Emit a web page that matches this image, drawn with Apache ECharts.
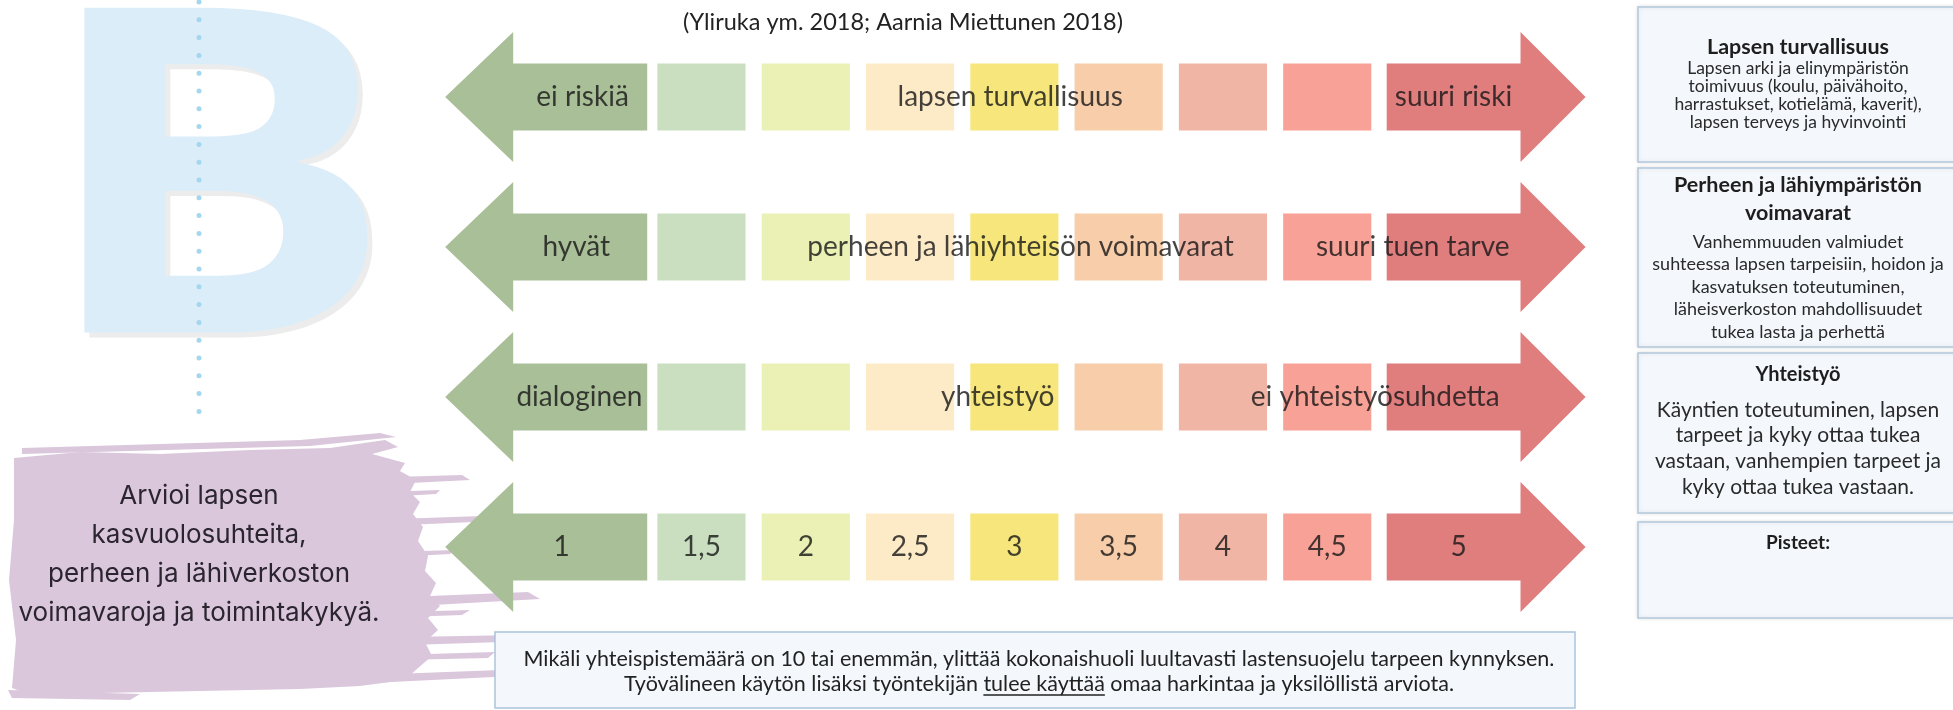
<!DOCTYPE html>
<html>
<head>
<meta charset="utf-8">
<title>Arviointiasteikko</title>
<script src="https://cdn.jsdelivr.net/npm/echarts@6/dist/echarts.min.js"></script>
<style>
    html, body { margin: 0; padding: 0; background: #fff; }
    #chart { width: 1953px; height: 710px; }
</style>
</head>
<body>
<div id="chart"></div>
<script>
// asteikon pisteet, 1..5 puolen pisteen välein
const scoreSteps = ['1', '1,5', '2', '2,5', '3', '3,5', '4', '4,5', '5'];
// kolme arvioitavaa riviä, neljäs rivi on pisterivi
const rowTitles = ['lapsen turvallisuus', 'perheen ja lähiyhteisön voimavarat', 'yhteistyö'];
const rowLowEnds = ['ei riskiä', 'hyvät', 'dialoginen'];
const rowHighEnds = ['suuri riski', 'suuri tuen tarve', 'ei yhteistyösuhdetta'];

const sourceNote = '(Yliruka ym. 2018; Aarnia Miettunen 2018)';
const sideNote = ['Arvioi lapsen', 'kasvuolosuhteita,', 'perheen ja lähiverkoston', 'voimavaroja ja toimintakykyä.'];
const footLine1 = 'Mikäli yhteispistemäärä on 10 tai enemmän, ylittää kokonaishuoli luultavasti lastensuojelu tarpeen kynnyksen.';
const footLine2 = ['Työvälineen käytön lisäksi työntekijän ', 'tulee käyttää', ' omaa harkintaa ja yksilöllistä arviota.'];

const boxTitles = [['Lapsen turvallisuus'], ['Perheen ja lähiympäristön', 'voimavarat'], ['Yhteistyö'], ['Pisteet:']];
const boxTexts = [
    ['Lapsen arki ja elinympäristön', 'toimivuus (koulu, päivähoito,', 'harrastukset, kotielämä, kaverit),', 'lapsen terveys ja hyvinvointi'],
    ['Vanhemmuuden valmiudet', 'suhteessa lapsen tarpeisiin, hoidon ja', 'kasvatuksen toteutuminen,', 'läheisverkoston mahdollisuudet', 'tukea lasta ja perhettä'],
    ['Käyntien toteutuminen, lapsen', 'tarpeet ja kyky ottaa tukea', 'vastaan, vanhempien tarpeet ja', 'kyky ottaa tukea vastaan.'],
    []
];

// ulkoasu
const stepColors = ['#a9bf97', '#c9dfbf', '#ebf0b5', '#fdebc8', '#f6e67c', '#f8cdaa', '#f1b5a6', '#f8a197', '#e07d7d'];
const lowAt = [-0.14, -0.2, -0.17];
const titleAt = [3.96, 4.06, 3.84];
const highAt = [8.21, 7.82, 7.46];
const numberAt = [-0.34, 1, 2, 3, 4, 5, 6, 7, 8.26];
const textFont = 'Lato';

const boxLayout = [
    { top: 7, bottom: 162, titleY: 47, titleStep: 0, titleSize: 21.5, bodyY: 68, bodyStep: 18, bodySize: 17.5 },
    { top: 168, bottom: 347, titleY: 185, titleStep: 28, titleSize: 21.5, bodyY: 242, bodyStep: 22.5, bodySize: 18 },
    { top: 353, bottom: 513, titleY: 375, titleStep: 0, titleSize: 20, bodyY: 410, bodyStep: 25.7, bodySize: 21 },
    { top: 522, bottom: 618, titleY: 543, titleStep: 0, titleSize: 19, bodyY: 0, bodyStep: 0, bodySize: 18 }
];

const cellData = [];
for (let r = 0; r < 4; r++) {
    for (let i = 0; i < scoreSteps.length; i++) {
        cellData.push([i, r]);
    }
}

const labelData = [];
rowTitles.forEach((t, r) => {
    labelData.push({ name: rowLowEnds[r], value: [lowAt[r], r] });
    labelData.push({ name: t, value: [titleAt[r], r] });
    labelData.push({ name: rowHighEnds[r], value: [highAt[r], r] });
});
scoreSteps.forEach((s, i) => {
    labelData.push({ name: s, value: [numberAt[i], 3] });
});

/**
 * piirtää asteikon ruudun, päissä nuolet
 */
function renderCell(params, api) {
    const step = api.value(0);
    const c = api.coord([step, api.value(1)]);
    const bw = api.size([1, 1])[0];
    const bh = 67 / 2, hh = 65;
    const color = stepColors[step];
    let points;
    if (step === 0) {
        const x0 = c[0] + 0.48 * bw, xb = c[0] - 0.805 * bw, xt = c[0] - 1.457 * bw;
        points = [[x0, c[1] - bh], [xb, c[1] - bh], [xb, c[1] - hh], [xt, c[1]],
            [xb, c[1] + hh], [xb, c[1] + bh], [x0, c[1] + bh]];
    } else if (step === scoreSteps.length - 1) {
        const x0 = c[0] - 0.43 * bw, xb = c[0] + 0.853 * bw, xt = c[0] + 1.477 * bw;
        points = [[x0, c[1] - bh], [xb, c[1] - bh], [xb, c[1] - hh], [xt, c[1]],
            [xb, c[1] + hh], [xb, c[1] + bh], [x0, c[1] + bh]];
    } else {
        const w = 0.845 * bw / 2;
        points = [[c[0] - w, c[1] - bh], [c[0] + w, c[1] - bh], [c[0] + w, c[1] + bh], [c[0] - w, c[1] + bh]];
    }
    return { type: 'polygon', shape: { points: points }, style: { fill: color } };
}

function textWidth(str, font) {
    const ctx = document.createElement('canvas').getContext('2d');
    ctx.font = font;
    return ctx.measureText(str).width;
}

const graphics = [];

// iso B-kirjain ja pisteviiva
graphics.push({ type: 'text', z: 0, x: 221, y: 208, scaleX: 1.175,
    style: { text: 'B', fontSize: 455, fontWeight: 'bold', fontFamily: 'Open Sans', fill: '#ececec', align: 'center', verticalAlign: 'middle' } });
graphics.push({ type: 'text', z: 0, x: 216, y: 203, scaleX: 1.175,
    style: { text: 'B', fontSize: 455, fontWeight: 'bold', fontFamily: 'Open Sans', fill: '#dbedf9', align: 'center', verticalAlign: 'middle' } });
graphics.push({ type: 'line', z: 0, shape: { x1: 199, y1: 2, x2: 199, y2: 414 },
    style: { stroke: '#a3d6ef', lineWidth: 5, lineDash: [0, 17.8], lineCap: 'round' } });

// violetti siveltimenveto
const brush = [
    [[14, 458], [80, 452], [160, 454], [250, 450], [330, 448], [385, 440], [398, 447], [372, 454], [405, 463], [400, 471],
        [416, 480], [410, 492], [420, 502], [413, 514], [423, 527], [418, 541], [428, 556], [425, 571], [436, 583],
        [430, 596], [440, 606], [428, 618], [438, 630], [425, 642], [432, 656], [418, 668], [405, 680], [360, 686],
        [300, 689], [200, 691], [100, 693], [30, 695], [12, 688], [16, 640], [9, 580], [14, 520]],
    [[360, 478], [462, 475], [470, 480], [370, 485]],
    [[380, 492], [440, 490], [436, 494], [385, 497]],
    [[395, 519], [482, 516], [474, 522], [405, 525]],
    [[390, 552], [455, 550], [450, 554], [395, 557]],
    [[405, 597], [528, 592], [540, 599], [415, 606]],
    [[400, 612], [470, 610], [462, 615], [405, 617]],
    [[405, 637], [520, 635], [532, 641], [410, 645]],
    [[395, 655], [495, 652], [488, 658], [400, 660]],
    [[340, 676], [500, 670], [494, 677], [350, 684]],
    [[22, 448], [300, 440], [380, 433], [396, 437], [310, 446], [22, 454]],
    [[8, 690], [140, 694], [130, 700], [12, 698]]
];
brush.forEach(p => graphics.push({ type: 'polygon', z: 0, shape: { points: p }, style: { fill: '#dac7dc' } }));

graphics.push({ type: 'text', z: 5, x: 199, y: 477,
    style: { text: sideNote.join('\n'), fontSize: 26, fontFamily: 'Inter', fill: '#2b2530', align: 'center', verticalAlign: 'top', lineHeight: 39 } });

// lähdeviite
graphics.push({ type: 'text', z: 5, x: 903, y: 22,
    style: { text: sourceNote, fontSize: 23.5, fontFamily: textFont, fill: '#222', align: 'center', verticalAlign: 'middle' } });

// alalaatikko
graphics.push({ type: 'rect', z: 5, shape: { x: 495, y: 632, width: 1080, height: 76 },
    style: { fill: '#f4f8fc', stroke: '#a9c3dc', lineWidth: 1.5 } });
const footFont = '21.5px ' + textFont;
const footCx = 1039;
graphics.push({ type: 'text', z: 6, x: footCx, y: 659,
    style: { text: footLine1, font: footFont, fill: '#222', align: 'center', verticalAlign: 'middle' } });
graphics.push({ type: 'text', z: 6, x: footCx, y: 684,
    style: { text: footLine2.join(''), font: footFont, fill: '#222', align: 'center', verticalAlign: 'middle' } });
const wAll = textWidth(footLine2.join(''), footFont);
const wPre = textWidth(footLine2[0], footFont);
const wMid = textWidth(footLine2[1], footFont);
const ulX = footCx - wAll / 2 + wPre;
graphics.push({ type: 'line', z: 6, shape: { x1: ulX, y1: 695, x2: ulX + wMid, y2: 695 },
    style: { stroke: '#222', lineWidth: 1.3 } });

// oikean reunan selitelaatikot
boxLayout.forEach((b, k) => {
    graphics.push({ type: 'rect', z: 5, shape: { x: 1638, y: b.top, width: 330, height: b.bottom - b.top },
        style: { fill: '#f4f8fc', stroke: '#b2c7dc', lineWidth: 1.5, shadowBlur: 4, shadowColor: 'rgba(0,0,0,0.12)' } });
    const tl = boxTitles[k];
    graphics.push({ type: 'text', z: 6, x: 1798, y: b.titleY - (b.titleStep || 24) / 2,
        style: { text: tl.join('\n'), fontSize: b.titleSize, fontWeight: 'bold', fontFamily: textFont, fill: '#1e1e1e',
            align: 'center', verticalAlign: 'top', lineHeight: b.titleStep || 24 } });
    if (boxTexts[k].length) {
        graphics.push({ type: 'text', z: 6, x: 1798, y: b.bodyY - b.bodyStep / 2,
            style: { text: boxTexts[k].join('\n'), fontSize: b.bodySize, fontFamily: textFont, fill: '#2a2a2a',
                align: 'center', verticalAlign: 'top', lineHeight: b.bodyStep } });
    }
});

const option = {
    animation: false,
    grid: { left: 545, right: 469.3, top: 22, bottom: 88 },
    xAxis: { type: 'value', min: -0.5, max: 8.5, show: false },
    yAxis: { type: 'value', min: -0.5, max: 3.5, inverse: true, show: false },
    graphic: { elements: graphics },
    series: [
        {
            type: 'custom',
            z: 2,
            renderItem: renderCell,
            data: cellData
        },
        {
            type: 'scatter',
            z: 3,
            symbolSize: 1,
            itemStyle: { color: 'rgba(0,0,0,0)' },
            label: {
                show: true,
                position: 'inside',
                formatter: '{b}',
                fontSize: 28,
                fontFamily: textFont,
                color: '#151515'
            },
            data: labelData
        }
    ]
};

const chart = echarts.init(document.getElementById('chart'));
chart.setOption(option);
</script>
</body>
</html>
